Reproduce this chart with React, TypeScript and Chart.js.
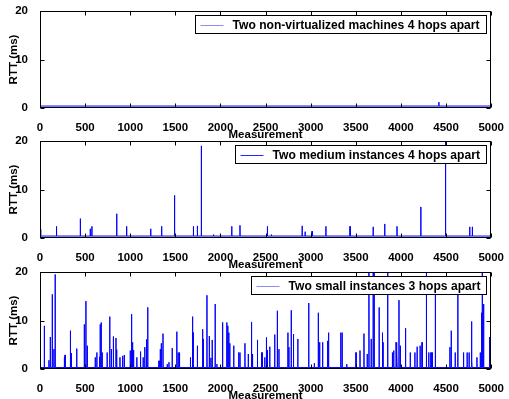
import React, { useEffect, useRef } from "react";
import { Chart, registerables } from "chart.js";

Chart.register(...registerables);

// ---------- data ----------
const xMin = 0;
const xMax = 5000;
const xStep = 500;
const yMin = 0;
const yMax = 20;
const yStep = 10;

const legend1 = "Two non-virtualized machines 4 hops apart";
const legend2 = "Two medium instances 4 hops apart";
const legend3 = "Two small instances 3 hops apart";

// panel 1: non-virtualized
const base1 = 0.4;
const spikes1X = [4420];
const spikes1Y = [1.2];

// panel 2: medium instances
const base2 = 0.4;
const spikes2X = [8, 183, 447, 557, 575, 850, 960, 1227, 1348, 1491, 1700, 1744, 1788, 1923, 2125, 2216, 2520, 2564, 2905, 2938, 3015, 3168, 3436, 3692, 3820, 3956, 4220, 4494, 4762, 4791];
const spikes2Y = [1.8, 2.4, 4.0, 1.9, 2.4, 5.0, 2.4, 1.9, 2.4, 8.8, 2.4, 2.5, 19.0, 0.7, 2.4, 2.6, 2.4, 0.7, 2.5, 1.3, 1.4, 2.4, 2.4, 2.3, 2.9, 2.4, 6.4, 25, 2.3, 2.3];

// panel 3: small instances
const base3 = 0.3;
const spikes3X = [48, 99, 114, 136, 154, 168, 267, 278, 337, 348, 407, 491, 509, 524, 612, 630, 659, 667, 678, 689, 744, 773, 791, 813, 842, 850, 886, 916, 934, 1000, 1015, 1026, 1037, 1073, 1110, 1117, 1143, 1161, 1176, 1183, 1194, 1319, 1333, 1344, 1363, 1410, 1429, 1465, 1516, 1531, 1546, 1667, 1689, 1696, 1744, 1802, 1810, 1850, 1876, 1894, 1908, 1941, 1960, 2022, 2025, 2070, 2081, 2092, 2103, 2147, 2202, 2216, 2271, 2308, 2344, 2355, 2410, 2454, 2465, 2491, 2509, 2520, 2546, 2601, 2630, 2648, 2747, 2758, 2784, 2809, 2857, 2978, 3040, 3084, 3099, 3132, 3187, 3198, 3333, 3348, 3399, 3502, 3546, 3590, 3626, 3645, 3670, 3692, 3703, 3758, 3795, 3802, 3853, 3905, 3920, 3945, 3956, 3978, 3993, 4051, 4103, 4154, 4179, 4212, 4234, 4282, 4308, 4333, 4348, 4381, 4542, 4557, 4601, 4630, 4689, 4697, 4733, 4755, 4780, 4787, 4842, 4879, 4894, 4901, 4916, 4982];
const spikes3Y = [8.9, 1.8, 6.6, 15.4, 4.1, 19.5, 2.4, 2.9, 7.9, 3.3, 4.2, 9.2, 14.0, 4.8, 2.4, 3.4, 2.5, 9.2, 9.6, 3.4, 3.4, 10.8, 4.1, 6.7, 6.4, 4.0, 2.4, 2.7, 2.9, 3.8, 11.3, 5.5, 3.9, 2.4, 3.6, 3.6, 2.4, 4.5, 5.3, 6.1, 12.7, 1.7, 4.1, 5.3, 7.3, 1.0, 1.4, 4.3, 7.7, 3.4, 3.4, 2.4, 10.8, 7.5, 4.8, 8.2, 6.2, 15.2, 6.8, 2.3, 6.0, 13.4, 1.0, 9.6, 7.3, 9.6, 8.9, 7.5, 5.3, 4.8, 3.4, 3.4, 5.3, 3.1, 9.7, 3.1, 6.0, 3.4, 3.4, 2.4, 6.5, 3.9, 4.6, 7.1, 12.0, 4.1, 7.5, 4.5, 12.1, 7.2, 6.2, 13.6, 1.2, 11.6, 5.5, 5.5, 5.8, 7.5, 7.5, 7.5, 1.0, 3.4, 3.8, 7.3, 3.1, 22, 6.2, 22, 22, 12.7, 7.5, 5.5, 22, 3.4, 3.8, 5.5, 3.8, 14.2, 4.8, 8.4, 3.4, 3.4, 4.6, 4.8, 5.5, 22, 3.4, 3.4, 3.4, 16.1, 4.5, 7.9, 3.4, 15.4, 3.4, 1.0, 3.4, 3.4, 9.8, 1.6, 2.4, 3.4, 11.6, 22, 13.4, 6.6];

// ---------- helpers ----------
function buildSeries(base: number, xs: number[], ys: number[]) {
  const order = xs.map((_, i) => i).sort((a, b) => xs[a] - xs[b]);
  const pts: { x: number; y: number }[] = [{ x: xMin, y: base }];
  for (const i of order) {
    pts.push({ x: xs[i] - 1, y: base });
    pts.push({ x: xs[i], y: ys[i] });
    pts.push({ x: xs[i] + 1, y: base });
  }
  pts.push({ x: xMax, y: base });
  return pts;
}

const FONT_FAMILY = "'Liberation Sans', Arial, Helvetica, sans-serif";
const tickFont = { family: FONT_FAMILY, size: 11.5, weight: "bold" as const };
const LEGEND_FONT = `bold 12.1px ${FONT_FAMILY}`;

const framePlugin = {
  id: "matlabFrame",
  afterDraw(chart: any) {
    const { ctx, chartArea } = chart;
    const { left, right, top, bottom } = chartArea;
    const L = Math.round(left) + 0.5;
    const R = Math.round(right) - 0.5;
    const T = Math.round(top) + 0.5;
    const B = Math.round(bottom) - 0.5;
    ctx.save();
    ctx.strokeStyle = "#000";
    ctx.lineWidth = 1;
    ctx.strokeRect(L, T, R - L, B - T);
    const tl = 4;
    ctx.beginPath();
    for (const t of chart.scales.x.ticks) {
      const px = Math.round(chart.scales.x.getPixelForValue(t.value)) + 0.5;
      ctx.moveTo(px, B);
      ctx.lineTo(px, B - tl);
      ctx.moveTo(px, T);
      ctx.lineTo(px, T + tl);
    }
    for (const t of chart.scales.y.ticks) {
      const py = Math.round(chart.scales.y.getPixelForValue(t.value)) + 0.5;
      ctx.moveTo(L, py);
      ctx.lineTo(L + tl, py);
      ctx.moveTo(R, py);
      ctx.lineTo(R - tl, py);
    }
    ctx.stroke();

    // legend box inside the axes (top right)
    const opts = chart.options.plugins.insetLegend;
    ctx.font = LEGEND_FONT;
    const w = ctx.measureText(opts.text).width;
    const boxR = Math.round(right) - 4.5;
    const boxT = Math.round(top) + 4.5;
    const boxH = 18;
    const boxW = 5 + 23 + 9 + w + 7;
    const boxL = Math.round(boxR - boxW) + 0.5;
    ctx.fillStyle = "#fff";
    ctx.fillRect(boxL, boxT, boxR - boxL, boxH);
    ctx.strokeStyle = "#000";
    ctx.strokeRect(boxL, boxT, boxR - boxL, boxH);
    const cy = Math.round(boxT + boxH / 2) + 0.5;
    ctx.strokeStyle = opts.color;
    ctx.beginPath();
    ctx.moveTo(boxL + 5, cy);
    ctx.lineTo(boxL + 28, cy);
    ctx.stroke();
    ctx.fillStyle = "#000";
    ctx.textBaseline = "middle";
    ctx.textAlign = "left";
    ctx.fillText(opts.text, boxL + 37, cy);
    ctx.restore();
  },
};

type PanelProps = {
  top: number;
  base: number;
  xs: number[];
  ys: number[];
  legend: string;
  legendColor: string;
};

function Panel({ top, base, xs, ys, legend, legendColor }: PanelProps) {
  const ref = useRef<HTMLCanvasElement>(null);
  useEffect(() => {
    if (!ref.current) return;
    const chart = new Chart(ref.current, {
      type: "line",
      data: {
        datasets: [
          {
            data: buildSeries(base, xs, ys),
            borderColor: "rgb(0,0,255)",
            borderWidth: 1,
            pointRadius: 0,
            tension: 0,
            fill: false,
          },
        ],
      },
      options: {
        animation: false,
        responsive: false,
        devicePixelRatio: 1,
        events: [],
        layout: { padding: { top: 11, right: 14, left: 0, bottom: 0 } },
        plugins: {
          legend: { display: false },
          tooltip: { enabled: false },
          // @ts-ignore
          insetLegend: { text: legend, color: legendColor },
        },
        scales: {
          x: {
            type: "linear",
            min: xMin,
            max: xMax,
            afterFit: (s: any) => {
              s.height = 34;
            },
            ticks: {
              stepSize: xStep,
              autoSkip: false,
              maxRotation: 0,
              color: "#000",
              font: tickFont,
              padding: 5,
              callback: (v: any) => String(v),
            },
            grid: { display: false },
            border: { display: false },
            title: {
              display: true,
              text: "Measurement",
              color: "#000",
              font: tickFont,
              padding: { top: 0, bottom: 0.5 },
            },
          },
          y: {
            type: "linear",
            min: yMin,
            max: yMax,
            afterFit: (s: any) => {
              s.width = 40;
            },
            ticks: {
              stepSize: yStep,
              color: "#000",
              font: tickFont,
              padding: 4,
              callback: (v: any) => String(v),
            },
            grid: { display: false },
            border: { display: false },
            title: {
              display: true,
              text: "RTT (ms)",
              color: "#000",
              font: tickFont,
              padding: { top: 7, bottom: 0 },
            },
          },
        },
      },
      plugins: [framePlugin],
    } as any);
    return () => chart.destroy();
  }, []);
  return (
    <canvas
      ref={ref}
      width={509}
      height={142}
      style={{ position: "absolute", left: 0, top, width: 509, height: 142 }}
    />
  );
}

export default function App() {
  return (
    <div
      style={{
        position: "fixed",
        left: 0,
        top: 0,
        width: 509,
        height: 399,
        overflow: "hidden",
        background: "#fff",
      }}
    >
      <Panel top={0} base={base1} xs={spikes1X} ys={spikes1Y} legend={legend1} legendColor="rgba(0,0,255,0.45)" />
      <Panel top={130} base={base2} xs={spikes2X} ys={spikes2Y} legend={legend2} legendColor="rgba(0,0,255,0.85)" />
      <Panel top={261} base={base3} xs={spikes3X} ys={spikes3Y} legend={legend3} legendColor="rgba(0,0,255,0.45)" />
    </div>
  );
}
